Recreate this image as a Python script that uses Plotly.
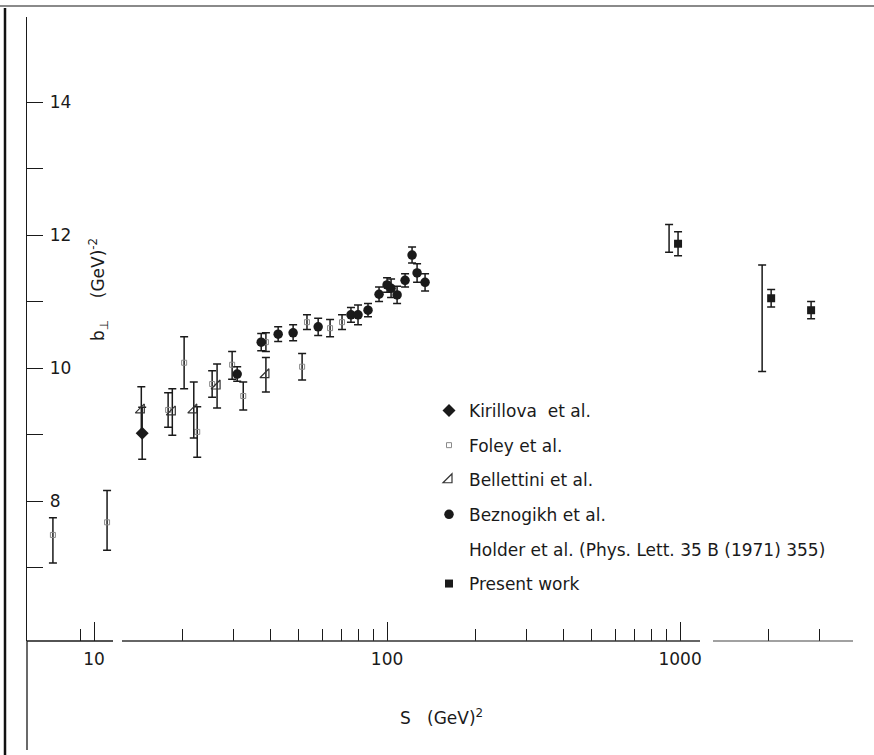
import plotly.graph_objects as go

# ---------------- data ----------------
kir_s = [14.6]
kir_b = [9.02]
kir_e = [0.39]

foley_s = [7.24, 11.08, 17.9, 20.3, 22.5, 25.3, 29.6, 32.3, 38.6, 51.3, 53.3, 63.9, 70.2]
foley_b = [7.49, 7.68, 9.37, 10.08, 9.04, 9.76, 10.05, 9.58, 10.39, 10.02, 10.69, 10.60, 10.69]
foley_ep = [0.26, 0.48, 0.26, 0.39, 0.38, 0.20, 0.20, 0.21, 0.14, 0.20, 0.11, 0.13, 0.11]
foley_em = [0.42, 0.42, 0.26, 0.39, 0.38, 0.20, 0.22, 0.21, 0.14, 0.20, 0.11, 0.13, 0.11]

bell_s = [14.5, 18.5, 21.9, 26.3, 38.6]
bell_b = [9.37, 9.34, 9.37, 9.73, 9.90]
bell_e = [0.35, 0.35, 0.42, 0.33, 0.26]

bez_s = [30.8, 37.2, 42.5, 47.8, 58.2, 75.3, 79.6, 86.1, 93.9, 100.0, 103.2, 108.2, 115.2, 121.7, 126.6, 134.8]
bez_b = [9.91, 10.39, 10.51, 10.53, 10.62, 10.80, 10.80, 10.87, 11.11, 11.25, 11.20, 11.10, 11.32, 11.70, 11.43, 11.29]
bez_e = [0.11, 0.13, 0.11, 0.12, 0.13, 0.11, 0.15, 0.10, 0.11, 0.11, 0.14, 0.13, 0.10, 0.12, 0.14, 0.13]

hold_s = [917, 1905]
hold_b = [11.95, 10.75]
hold_e = [0.21, 0.80]

pres_s = [984, 2045, 2799]
pres_b = [11.87, 11.05, 10.87]
pres_e = [0.18, 0.13, 0.13]

x_major = [10, 100, 1000]
x_major_text = ["10", "100", "1000"]
x_minor = [7, 8, 9, 20, 30, 40, 50, 60, 70, 80, 90,
           200, 300, 400, 500, 600, 700, 800, 900, 2000, 3000]
y_major = [8, 10, 12, 14]
y_major_text = ["8", "10", "12", "14"]
y_minor = [7, 9, 11, 13]

FONT = "DejaVu Sans"
INK = "#1a1a1a"


def err(vals, minus=None):
    d = dict(type="data", array=vals, color=INK, thickness=1.5, width=4, visible=True)
    if minus is not None:
        d["symmetric"] = False
        d["arrayminus"] = minus
    return d


fig = go.Figure()
fig.add_trace(go.Scatter(x=kir_s, y=kir_b, mode="markers", name="Kirillova  et al.",
                         legendgroup="a",
                         marker=dict(symbol="diamond", size=10, color=INK),
                         error_y=err(kir_e)))
fig.add_trace(go.Scatter(x=foley_s, y=foley_b, mode="markers", name="Foley et al.",
                         legendgroup="b",
                         marker=dict(symbol="square-open", size=5, color="#8a8a8a",
                                     line=dict(width=1)),
                         error_y=err(foley_ep, foley_em)))
fig.add_trace(go.Scatter(x=bell_s, y=bell_b, mode="markers", name="Bellettini et al.",
                         legendgroup="c",
                         marker=dict(symbol="triangle-se-open", size=10, color="#333333",
                                     line=dict(width=1.2)),
                         error_y=err(bell_e)))
fig.add_trace(go.Scatter(x=bez_s, y=bez_b, mode="markers", name="Beznogikh et al.",
                         legendgroup="d",
                         marker=dict(symbol="circle", size=9.5, color=INK),
                         error_y=err(bez_e)))
fig.add_trace(go.Scatter(x=hold_s, y=hold_b, mode="markers",
                         name="Holder et al. (Phys. Lett. 35 B (1971) 355)",
                         legendgroup="e",
                         marker=dict(symbol="circle-open", size=4, color="rgba(0,0,0,0)"),
                         error_y=err(hold_e)))
fig.add_trace(go.Scatter(x=pres_s, y=pres_b, mode="markers", name="Present work",
                         legendgroup="f",
                         marker=dict(symbol="square", size=8, color=INK),
                         error_y=err(pres_e)))

# plot area: x 27..853 px, y 17..641 px
L, R, T, B = 27, 21, 17, 114
W, H = 874, 755
PW, PH = W - L - R, H - T - B


def px(xp):
    return (xp - L) / PW


def py(yp):
    return (H - B - yp) / PH


shapes = [
    # y axis continues below the x axis
    dict(type="line", xref="paper", yref="paper", x0=0, x1=0, y0=0, y1=py(750),
         line=dict(color=INK, width=1.3)),
    # x axis line (with scan breaks)
    dict(type="line", xref="paper", yref="paper", x0=0, x1=px(113), y0=0, y1=0,
         line=dict(color=INK, width=1.3)),
    dict(type="line", xref="paper", yref="paper", x0=px(122), x1=px(700), y0=0, y1=0,
         line=dict(color="#333", width=1.3)),
    dict(type="line", xref="paper", yref="paper", x0=px(713), x1=1, y0=0, y1=0,
         line=dict(color="#444", width=1.2)),
    # scan frame edges
    dict(type="line", xref="paper", yref="paper", x0=px(5), x1=px(5), y0=py(8), y1=py(755),
         line=dict(color="#111", width=2.5)),
    dict(type="line", xref="paper", yref="paper", x0=px(0), x1=px(874), y0=py(6), y1=py(6),
         line=dict(color="#8a8a8a", width=2)),
]

annotations = [
    dict(text="S&nbsp;&nbsp;&nbsp;(GeV)<sup>2</sup>", xref="paper", yref="paper",
         x=px(441), y=py(717), showarrow=False, xanchor="center", yanchor="middle",
         font=dict(family=FONT, size=17, color=INK)),
    dict(text="b<sub>⊥</sub>&nbsp;&nbsp;&nbsp;&nbsp;(GeV)<sup>-2</sup>", xref="paper",
         yref="paper", x=px(98), y=py(290), showarrow=False, textangle=-90,
         xanchor="center", yanchor="middle",
         font=dict(family=FONT, size=17, color=INK)),
]

fig.update_layout(
    width=W, height=H,
    margin=dict(l=L, r=R, t=T, b=B),
    paper_bgcolor="white", plot_bgcolor="white",
    font=dict(family=FONT, color=INK, size=17),
    shapes=shapes, annotations=annotations,
    showlegend=True,
    legend=dict(x=px(429), y=py(393), xanchor="left", yanchor="top",
                font=dict(family=FONT, size=17, color=INK),
                bgcolor="rgba(0,0,0,0)", tracegroupgap=9.5, itemclick=False),
    xaxis=dict(type="log", range=[0.7713, 3.590], showline=False, showgrid=False,
               zeroline=False, ticks="inside", ticklen=19, tickwidth=1.3, tickcolor=INK,
               tickmode="array", tickvals=x_major, ticktext=x_major_text,
               tickfont=dict(family=FONT, size=17, color=INK), ticklabelstandoff=6,
               minor=dict(tickmode="array", tickvals=x_minor, ticks="inside",
                          ticklen=12, tickwidth=1.2, tickcolor=INK, showgrid=False)),
    yaxis=dict(range=[5.895, 15.28], showline=True, linecolor=INK, linewidth=1.3,
               showgrid=False, zeroline=False, ticks="inside", ticklen=16, tickwidth=1.3,
               tickcolor=INK, tickmode="array", tickvals=y_major, ticktext=y_major_text,
               ticklabelposition="inside", ticklabelstandoff=7,
               tickfont=dict(family=FONT, size=17, color=INK),
               minor=dict(tickmode="array", tickvals=y_minor, ticks="inside",
                          ticklen=16, tickwidth=1.3, tickcolor=INK, showgrid=False)),
)

fig.write_html("out.html")
